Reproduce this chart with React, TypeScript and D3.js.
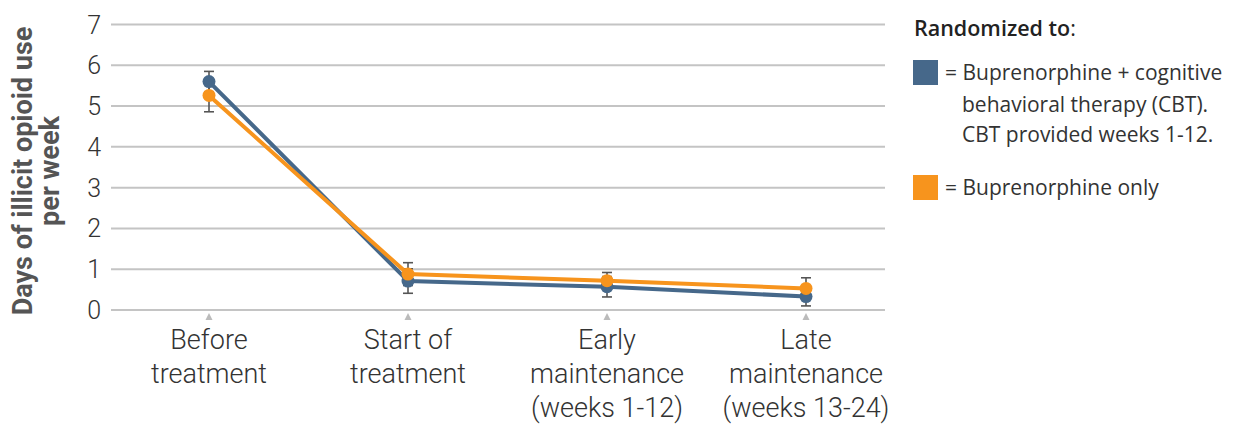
import React from "react";
import * as d3 from "d3";

const categories = ["Before|treatment", "Start of|treatment", "Early|maintenance|(weeks 1-12)", "Late|maintenance|(weeks 13-24)"];
const cbtValues = [5.6, 0.71, 0.57, 0.33];
const cbtErr = [0.25, 0.3, 0.25, 0.23];
const onlyValues = [5.26, 0.88, 0.72, 0.53];
const onlyErr = [0.4, 0.28, 0.2, 0.26];
const yTicks = [0, 1, 2, 3, 4, 5, 6, 7];

const W = 1235, H = 424;
const plotLeft = 111, plotRight = 885;
const BLUE = "#46688a", ORANGE = "#f7941d";

export default function App() {
  const y = d3.scaleLinear().domain([0, 7]).range([310, 24.5]);
  const x = d3.scalePoint<string>().domain(categories).range([209, 806]);
  const line = d3.line<number>().x((_, i) => x(categories[i])!).y(d => y(d));
  const series = [
    { vals: cbtValues, err: cbtErr, color: BLUE },
    { vals: onlyValues, err: onlyErr, color: ORANGE },
  ];
  return (
    <svg width={W} height={H} style={{ position: "absolute", left: 0, top: 0 }}>
      {yTicks.map(t => (
        <g key={t}>
          <line x1={plotLeft} x2={plotRight} y1={y(t)} y2={y(t)} stroke="#c4c4c4" strokeWidth={2} />
          <text x={101} y={y(t)} dy="0.36em" textAnchor="end" fontFamily="Roboto" fontWeight={300} fontSize={25} fill="#333">{t}</text>
        </g>
      ))}
      <g transform="translate(32,171) rotate(-90)">
        <text textAnchor="middle" fontFamily="Roboto" fontWeight={700} fontSize={27} fill="#555">
          <tspan x={0} y={0}>Days of illicit opioid use</tspan>
          <tspan x={0} y={27}>per week</tspan>
        </text>
      </g>
      {categories.map(c => (
        <g key={c}>
          <path d={`M${x(c)! - 3.5},${320} L${x(c)! + 3.5},${320} L${x(c)!},${313} Z`} fill="#bbb" />
          <text textAnchor="middle" fontFamily="Roboto" fontWeight={300} fontSize={27} fill="#333">
            {c.split("|").map((l, i) => (
              <tspan key={i} x={x(c)} y={349 + i * 34}>{l}</tspan>
            ))}
          </text>
        </g>
      ))}
      {series.map((s, si) => (
        <g key={"e" + si}>
          {s.vals.map((v, i) => {
            const cx = x(categories[i])!;
            return (
              <g key={i} stroke="#555" strokeWidth={1.6}>
                <line x1={cx} x2={cx} y1={y(v + s.err[i])} y2={y(v - s.err[i])} />
                <line x1={cx - 5} x2={cx + 5} y1={y(v + s.err[i])} y2={y(v + s.err[i])} />
                <line x1={cx - 5} x2={cx + 5} y1={y(v - s.err[i])} y2={y(v - s.err[i])} />
              </g>
            );
          })}
        </g>
      ))}
      {series.map((s, si) => (
        <g key={"s" + si}>
          <path d={line(s.vals)!} fill="none" stroke={s.color} strokeWidth={4} />
          {s.vals.map((v, i) => (
            <circle key={i} cx={x(categories[i])!} cy={y(v)} r={6.5} fill={s.color} />
          ))}
        </g>
      ))}
      <g fontFamily="Open Sans" fill="#222">
        <text x={914} y={36} fontSize={21.5}><tspan fontWeight={600}>Randomized to</tspan>:</text>
        <rect x={913} y={60} width={25} height={25} fill={BLUE} />
        <text fontSize={21} fill="#333">
          <tspan x={945} y={80}>= Buprenorphine + cognitive</tspan>
          <tspan x={962} y={112}>behavioral therapy (CBT).</tspan>
          <tspan x={962} y={142}>CBT provided weeks 1-12.</tspan>
        </text>
        <rect x={913} y={175} width={25} height={25} fill={ORANGE} />
        <text fontSize={21} fill="#333">
          <tspan x={945} y={195}>= Buprenorphine only</tspan>
        </text>
      </g>
    </svg>
  );
}
